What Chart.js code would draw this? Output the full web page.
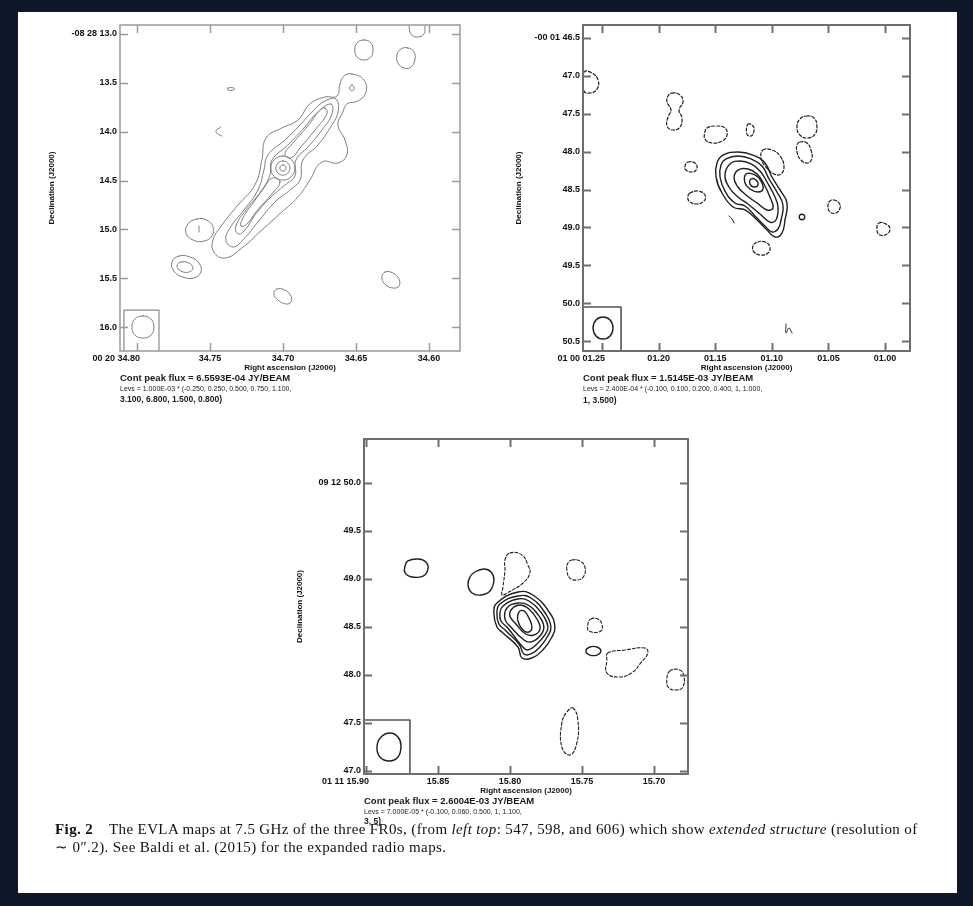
<!DOCTYPE html>
<html>
<head>
<meta charset="utf-8">
<title>EVLA 7.5 GHz maps of three FR0s</title>
<script src="https://cdn.jsdelivr.net/npm/chart.js@4.4.1/dist/chart.umd.min.js"></script>
<style>
html,body{margin:0;padding:0;}
body{width:973px;height:906px;background:#0f1828;position:relative;overflow:hidden;font-family:"Liberation Sans",Arial,sans-serif;}
#sheet{position:absolute;left:18px;top:12px;width:939px;height:881px;background:#fff;}
canvas{position:absolute;}
.note{position:absolute;color:#1a1a1a;font-weight:bold;white-space:nowrap;line-height:1;}
.note.small{font-weight:normal;}
.cap{position:absolute;font-family:"Liberation Serif","Times New Roman",serif;font-size:15px;letter-spacing:0.4px;line-height:18px;color:#111;white-space:nowrap;}
#cap1{left:55px;top:820px;}
#cap2{left:55px;top:838px;}
</style>
</head>
<body>
<div id="sheet"></div>
<canvas id="map587" width="450" height="360" style="left:30px;top:15px"></canvas>
<canvas id="map598" width="430" height="360" style="left:500px;top:15px"></canvas>
<canvas id="map606" width="430" height="370" style="left:280px;top:430px"></canvas>

<div class="note" style="left:120px;top:373px;font-size:9.5px">Cont peak flux = 6.5593E-04 JY/BEAM</div>
<div class="note small" style="left:120px;top:385px;font-size:7px">Levs = 1.000E-03 * (-0.250, 0.250, 0.500, 0.750, 1.100,</div>
<div class="note" style="left:120px;top:395px;font-size:8.5px">3.100, 6.800, 1.500, 0.800)</div>

<div class="note" style="left:583px;top:373px;font-size:9.5px">Cont peak flux = 1.5145E-03 JY/BEAM</div>
<div class="note small" style="left:583px;top:385px;font-size:7px">Levs = 2.400E-04 * (-0.100, 0.100, 0.200, 0.400, 1, 1.000,</div>
<div class="note" style="left:583px;top:396px;font-size:8.5px">1, 3.500)</div>

<div class="note" style="left:364px;top:796px;font-size:9.5px">Cont peak flux = 2.6004E-03 JY/BEAM</div>
<div class="note small" style="left:364px;top:808px;font-size:7px">Levs = 7.000E-05 * (-0.100, 0.060, 0.500, 1, 1.100,</div>
<div class="note" style="left:364px;top:817px;font-size:8.5px">3, 5)</div>

<div class="cap" id="cap1"><b>Fig. 2</b>&nbsp;&nbsp;&nbsp; The EVLA maps at 7.5 GHz of the three FR0s, (from <i>left top</i>: 547, 598, and 606) which show <i>extended structure</i> (resolution of</div>
<div class="cap" id="cap2">∼ 0″.2). See Baldi et al. (2015) for the expanded radio maps.</div>

<script>
// ---------- Source 547 : RA seconds (00 20 ss.ss), Dec arcsec (-08 28 ss.s) ----------
const p1RaRange = [34.5787, 34.8116];
const p1DecRange = [12.908, 16.244];
const p1RaTicks = [34.80, 34.75, 34.70, 34.65, 34.60];
const p1RaLabels = ['00 20 34.80', '34.75', '34.70', '34.65', '34.60'];
const p1DecTicks = [13.0, 13.5, 14.0, 14.5, 15.0, 15.5, 16.0];
const p1DecLabels = ['-08 28 13.0', '13.5', '14.0', '14.5', '15.0', '15.5', '16.0'];

const p1JetOuter = [[34.6527,13.409],[34.6445,13.471],[34.6431,13.594],[34.6486,13.686],[34.6562,13.716],[34.6589,13.798],[34.6623,13.931],[34.6575,14.085],[34.6562,14.238],[34.6623,14.320],[34.6733,14.310],[34.6815,14.494],[34.6897,14.668],[34.7007,14.822],[34.7144,15.006],[34.7281,15.190],[34.7397,15.293],[34.7473,15.231],[34.7479,15.108],[34.7418,14.955],[34.7308,14.750],[34.7192,14.545],[34.7144,14.290],[34.7116,14.064],[34.7007,13.962],[34.6897,13.880],[34.6815,13.716],[34.6712,13.645],[34.6630,13.635],[34.6609,13.512],[34.6582,13.430]];
const p1JetMid = [[34.6637,13.665],[34.6623,13.798],[34.6678,13.962],[34.6760,14.136],[34.6863,14.290],[34.6883,14.494],[34.6952,14.597],[34.7055,14.720],[34.7171,14.924],[34.7274,15.108],[34.7342,15.180],[34.7390,15.108],[34.7363,14.986],[34.7267,14.801],[34.7171,14.597],[34.7130,14.392],[34.7103,14.238],[34.6986,14.085],[34.6883,13.931],[34.6788,13.778],[34.6712,13.686]];
const p1JetInner = [[34.6671,13.716],[34.6664,13.819],[34.6733,13.983],[34.6829,14.157],[34.6911,14.290],[34.6918,14.453],[34.6986,14.545],[34.7089,14.679],[34.7192,14.853],[34.7260,15.006],[34.7308,15.047],[34.7322,14.965],[34.7253,14.801],[34.7144,14.597],[34.7089,14.443],[34.7075,14.290],[34.6966,14.136],[34.6856,13.962],[34.6760,13.798]];
const p1NorthKnot = [[34.6712,13.757],[34.6699,13.819],[34.6781,13.983],[34.6883,14.167],[34.6945,14.269],[34.6986,14.228],[34.6925,14.105],[34.6829,13.942],[34.6746,13.778]];
const p1SouthKnot = [[34.7020,14.515],[34.7089,14.658],[34.7185,14.822],[34.7247,14.945],[34.7288,14.965],[34.7274,14.883],[34.7205,14.730],[34.7130,14.576],[34.7075,14.474]];
const p1CoreOuter = [[34.7000,14.249],[34.6942,14.285],[34.6918,14.372],[34.6942,14.459],[34.7000,14.495],[34.7058,14.459],[34.7082,14.372],[34.7058,14.285]];
const p1CoreMid = [[34.7000,14.300],[34.6966,14.321],[34.6952,14.372],[34.6966,14.423],[34.7000,14.444],[34.7034,14.423],[34.7048,14.372],[34.7034,14.321]];
const p1CoreInner = [[34.7000,14.341],[34.6985,14.350],[34.6979,14.372],[34.6985,14.394],[34.7000,14.403],[34.7015,14.394],[34.7021,14.372],[34.7015,14.350]];
const p1HeadPeak = [[34.6527,13.522],[34.6512,13.553],[34.6527,13.584],[34.6542,13.553]];
const p1NorthBlobA = [[34.6445,13.061],[34.6397,13.092],[34.6383,13.164],[34.6397,13.235],[34.6445,13.266],[34.6493,13.235],[34.6507,13.164],[34.6493,13.092]];
const p1NorthBlobB = [[34.6144,13.143],[34.6103,13.184],[34.6096,13.266],[34.6123,13.338],[34.6171,13.348],[34.6212,13.297],[34.6219,13.215],[34.6192,13.154]];
const p1WestBlob = [[34.7589,14.893],[34.7521,14.904],[34.7479,14.975],[34.7486,15.067],[34.7541,15.119],[34.7616,15.108],[34.7664,15.037],[34.7651,14.945]];
const p1SouthWestOuter = [[34.7712,15.272],[34.7637,15.282],[34.7575,15.344],[34.7562,15.436],[34.7610,15.497],[34.7685,15.487],[34.7747,15.426],[34.7760,15.334]];
const p1SouthWestInner = [[34.7699,15.334],[34.7644,15.344],[34.7616,15.395],[34.7644,15.436],[34.7699,15.426],[34.7726,15.375]];
const p1SouthBlob = [[34.7041,15.610],[34.6986,15.620],[34.6945,15.682],[34.6945,15.743],[34.6979,15.763],[34.7034,15.723],[34.7062,15.661]];
const p1EastBlob = [[34.6301,15.436],[34.6246,15.446],[34.6205,15.508],[34.6205,15.579],[34.6240,15.600],[34.6294,15.569],[34.6322,15.497]];
const p1Speck = [[34.7377,13.553],[34.7336,13.553],[34.7336,13.573],[34.7377,13.573]];
const p1Beam = [[34.7959,15.886],[34.7904,15.917],[34.7884,15.999],[34.7904,16.081],[34.7959,16.111],[34.8014,16.081],[34.8034,15.999],[34.8014,15.917]];
const p1EdgeArc = [[34.6137,12.91],[34.6123,13.0],[34.6082,13.031],[34.6034,13.0],[34.6027,12.918]];
const p1Hook = [[34.7425,13.952],[34.7459,13.993],[34.7445,14.024],[34.7418,14.044]];
const p1Tick = [[34.7575,14.965],[34.7575,15.027]];
const p1BeamBox = [[34.8089,16.244],[34.8089,15.825],[34.7849,15.825],[34.7849,16.244]];

// ---------- Source 598 : RA seconds (01 00 ss.ss), Dec arcsec (-00 01 ss.s) ----------
const p2RaRange = [0.9780, 1.2668];
const p2DecRange = [46.3285, 50.6294];
const p2RaTicks = [1.25, 1.20, 1.15, 1.10, 1.05, 1.00];
const p2RaLabels = ['01 00 01.25', '01.20', '01.15', '01.10', '01.05', '01.00'];
const p2DecTicks = [46.5, 47.0, 47.5, 48.0, 48.5, 49.0, 49.5, 50.0, 50.5];
const p2DecLabels = ['-00 01 46.5', '47.0', '47.5', '48.0', '48.5', '49.0', '49.5', '50.0', '50.5'];

const p2Level1 = [[1.1432,48.044],[1.1299,48.004],[1.1167,48.044],[1.1061,48.149],[1.0999,48.334],[1.0928,48.505],[1.0866,48.677],[1.0884,48.901],[1.0911,49.073],[1.0972,49.125],[1.1043,49.033],[1.1131,48.901],[1.1237,48.769],[1.1343,48.730],[1.1440,48.545],[1.1493,48.334],[1.1485,48.149]];
const p2Level2 = [[1.1405,48.096],[1.1299,48.057],[1.1184,48.096],[1.1087,48.189],[1.1025,48.360],[1.0955,48.532],[1.0902,48.703],[1.0919,48.901],[1.0946,49.020],[1.0999,49.059],[1.1061,48.980],[1.1140,48.862],[1.1237,48.716],[1.1326,48.677],[1.1414,48.519],[1.1458,48.334],[1.1449,48.176]];
const p2Level3 = [[1.1370,48.162],[1.1281,48.123],[1.1184,48.162],[1.1105,48.255],[1.1043,48.400],[1.0981,48.571],[1.0946,48.730],[1.0964,48.901],[1.1017,48.928],[1.1105,48.822],[1.1211,48.690],[1.1299,48.598],[1.1379,48.466],[1.1414,48.307]];
const p2Level4 = [[1.1299,48.242],[1.1211,48.228],[1.1131,48.294],[1.1070,48.426],[1.1017,48.598],[1.0990,48.743],[1.1043,48.769],[1.1131,48.677],[1.1228,48.571],[1.1299,48.466],[1.1334,48.347]];
const p2Level5 = [[1.1228,48.294],[1.1149,48.307],[1.1096,48.387],[1.1078,48.492],[1.1123,48.532],[1.1193,48.492],[1.1237,48.413]];
const p2Level6 = [[1.1184,48.360],[1.1140,48.373],[1.1123,48.439],[1.1158,48.466],[1.1193,48.426]];
const p2NegEdge = [[1.2659,46.949],[1.2588,46.962],[1.2535,47.054],[1.2544,47.173],[1.2606,47.226],[1.2659,47.199]];
const p2NegPeanut = [[1.1882,47.226],[1.1811,47.252],[1.1785,47.344],[1.1820,47.450],[1.1794,47.555],[1.1811,47.674],[1.1873,47.714],[1.1926,47.661],[1.1917,47.542],[1.1891,47.450],[1.1926,47.344],[1.1917,47.265]];
const p2NegWest = [[1.1573,47.687],[1.1493,47.661],[1.1414,47.687],[1.1396,47.780],[1.1440,47.859],[1.1529,47.885],[1.1591,47.833],[1.1591,47.740]];
const p2NegSmallN = [[1.1211,47.635],[1.1167,47.661],[1.1158,47.727],[1.1184,47.793],[1.1220,47.767]];
const p2NegEastA = [[1.0690,47.529],[1.0628,47.555],[1.0602,47.661],[1.0619,47.767],[1.0681,47.819],[1.0752,47.780],[1.0778,47.674],[1.0752,47.569]];
const p2NegEastB = [[1.0752,47.872],[1.0690,47.885],[1.0655,47.978],[1.0646,48.083],[1.0681,48.149],[1.0743,48.110],[1.0778,48.004],[1.0778,47.912]];
const p2NegNearCore = [[1.1078,47.978],[1.0999,47.978],[1.0928,48.057],[1.0893,48.189],[1.0919,48.294],[1.0981,48.294],[1.1052,48.202],[1.1096,48.083]];
const p2NegSmallW = [[1.1741,48.136],[1.1679,48.149],[1.1661,48.215],[1.1696,48.268],[1.1758,48.242],[1.1767,48.189]];
const p2NegSW = [[1.1723,48.545],[1.1652,48.519],[1.1591,48.571],[1.1599,48.651],[1.1670,48.690],[1.1732,48.651],[1.1741,48.585]];
const p2NegSE = [[1.0451,48.637],[1.0407,48.677],[1.0398,48.743],[1.0434,48.809],[1.0487,48.796],[1.0504,48.716],[1.0487,48.651]];
const p2NegFarE = [[1.0054,48.941],[0.9992,48.954],[0.9957,49.020],[0.9983,49.086],[1.0045,49.099],[1.0072,49.033]];
const p2NegS = [[1.1123,49.191],[1.1061,49.191],[1.1017,49.257],[1.1034,49.337],[1.1096,49.363],[1.1158,49.323],[1.1167,49.244]];
const p2Dot = [[1.0752,48.835],[1.0716,48.835],[1.0716,48.888],[1.0752,48.888]];
const p2Stroke = [[1.1379,48.848],[1.1352,48.888],[1.1334,48.941]];
const p2Squiggle = [[1.0875,50.273],[1.0875,50.392],[1.0849,50.326],[1.0822,50.392]];
const p2Beam = [[1.2491,50.181],[1.2429,50.220],[1.2403,50.326],[1.2429,50.432],[1.2491,50.471],[1.2553,50.432],[1.2579,50.326],[1.2553,50.220]];
const p2BeamBox = [[1.2668,50.049],[1.2332,50.049],[1.2332,50.6294]];

// ---------- Source 606 : RA seconds (01 11 ss.ss), Dec arcsec (09 12 ss.s) ----------
const p3RaRange = [15.6764, 15.9014];
const p3DecRange = [46.9688, 50.4583];
const p3RaTicks = [15.90, 15.85, 15.80, 15.75, 15.70];
const p3RaLabels = ['01 11 15.90', '15.85', '15.80', '15.75', '15.70'];
const p3DecTicks = [50.0, 49.5, 49.0, 48.5, 48.0, 47.5, 47.0];
const p3DecLabels = ['09 12 50.0', '49.5', '49.0', '48.5', '48.0', '47.5', '47.0'];

const p3Level1 = [[15.8091,48.750],[15.7945,48.865],[15.7841,48.833],[15.7723,48.646],[15.7688,48.500],[15.7709,48.396],[15.7772,48.260],[15.7848,48.177],[15.7917,48.177],[15.7945,48.292],[15.8049,48.438],[15.8091,48.500],[15.8112,48.646]];
const p3Level2 = [[15.8070,48.740],[15.7945,48.823],[15.7855,48.802],[15.7751,48.635],[15.7716,48.500],[15.7737,48.406],[15.7792,48.292],[15.7855,48.219],[15.7903,48.219],[15.7938,48.323],[15.8035,48.469],[15.8077,48.531],[15.8091,48.646]];
const p3Level3 = [[15.8049,48.719],[15.7945,48.792],[15.7869,48.771],[15.7772,48.625],[15.7737,48.500],[15.7758,48.417],[15.7813,48.323],[15.7876,48.260],[15.7917,48.302],[15.8015,48.490],[15.8063,48.563],[15.8070,48.646]];
const p3Level4 = [[15.8021,48.698],[15.7945,48.750],[15.7876,48.729],[15.7799,48.615],[15.7765,48.500],[15.7792,48.406],[15.7855,48.344],[15.7903,48.365],[15.7994,48.500],[15.8035,48.583]];
const p3Level5 = [[15.7987,48.688],[15.7931,48.729],[15.7869,48.688],[15.7813,48.583],[15.7792,48.479],[15.7834,48.417],[15.7890,48.427],[15.7959,48.531],[15.8001,48.615]];
const p3Level6 = [[15.7938,48.656],[15.7903,48.667],[15.7869,48.594],[15.7848,48.500],[15.7869,48.448],[15.7910,48.469],[15.7945,48.563]];
const p3WestBlob = [[15.8709,49.188],[15.8639,49.208],[15.8584,49.177],[15.8570,49.104],[15.8604,49.031],[15.8681,49.021],[15.8729,49.063],[15.8729,49.135]];
const p3NearBlob = [[15.8244,49.073],[15.8181,49.104],[15.8132,49.073],[15.8112,48.990],[15.8139,48.875],[15.8202,48.833],[15.8264,48.854],[15.8292,48.938],[15.8278,49.021]];
const p3Lens = [[15.7473,48.250],[15.7445,48.292],[15.7397,48.292],[15.7369,48.250],[15.7397,48.208],[15.7445,48.208]];
const p3NegPlume = [[15.8001,49.271],[15.7917,49.250],[15.7876,49.146],[15.7862,49.063],[15.7910,48.958],[15.8021,48.854],[15.8056,48.833],[15.8049,48.917],[15.8035,49.094],[15.8035,49.198]];
const p3NegNE = [[15.7570,49.198],[15.7515,49.188],[15.7480,49.125],[15.7487,49.031],[15.7529,48.990],[15.7584,49.010],[15.7605,49.094],[15.7598,49.167]];
const p3NegSmall = [[15.7438,48.583],[15.7390,48.583],[15.7362,48.531],[15.7369,48.458],[15.7452,48.458],[15.7459,48.531]];
const p3NegPatch = [[15.7321,48.229],[15.7203,48.260],[15.7064,48.281],[15.7043,48.229],[15.7098,48.115],[15.7147,48.031],[15.7237,47.979],[15.7327,48.021],[15.7327,48.156]];
const p3NegEdge = [[15.6890,48.042],[15.6821,48.052],[15.6793,47.990],[15.6800,47.875],[15.6842,47.844],[15.6897,47.865],[15.6911,47.948]];
const p3NegStreak = [[15.7563,47.656],[15.7529,47.531],[15.7536,47.292],[15.7584,47.167],[15.7640,47.250],[15.7640,47.500],[15.7605,47.615]];
const p3Beam = [[15.8833,47.396],[15.8778,47.354],[15.8757,47.260],[15.8778,47.146],[15.8840,47.104],[15.8903,47.146],[15.8924,47.250],[15.8896,47.354]];
const p3BeamBox = [[15.9014,47.531],[15.8695,47.531],[15.8695,46.9688]];

// ---------- drawing ----------
Chart.defaults.font.family = '"Liberation Sans", Arial, sans-serif';
Chart.defaults.color = '#111';

const DASH = [3, 2];

function contour(points, color, width, extra) {
  return Object.assign({
    data: points.map(p => ({ x: p[0], y: p[1] })),
    borderColor: color,
    borderWidth: width,
    tension: 0.45,
    closed: true,
    pointRadius: 0,
    fill: false
  }, extra || {});
}

// Closed contours: let the line element wrap round so the spline has no seam.
const closeLoops = {
  id: 'closeLoops',
  afterDatasetUpdate(chart, args) {
    const ds = chart.data.datasets[args.index];
    const line = args.meta.dataset;
    if (line && ds.closed) {
      line._loop = true;
      line._fullLoop = true;
    }
  }
};

// Frame with inward tick marks on all four sides, plus the RA labels.
const frameTicks = {
  id: 'frameTicks',
  afterDraw(chart, args, opts) {
    const { ctx, chartArea: a, scales: { x, y } } = chart;
    ctx.save();
    ctx.strokeStyle = opts.color;
    ctx.lineWidth = opts.width;
    ctx.strokeRect(a.left, a.top, a.right - a.left, a.bottom - a.top);
    ctx.beginPath();
    const L = opts.len;
    x.ticks.forEach(t => {
      const px = Math.round(x.getPixelForValue(t.value)) + 0.5;
      ctx.moveTo(px, a.bottom); ctx.lineTo(px, a.bottom - L);
      ctx.moveTo(px, a.top); ctx.lineTo(px, a.top + L);
    });
    y.ticks.forEach(t => {
      const py = Math.round(y.getPixelForValue(t.value)) + 0.5;
      ctx.moveTo(a.left, py); ctx.lineTo(a.left + L, py);
      ctx.moveTo(a.right, py); ctx.lineTo(a.right - L, py);
    });
    ctx.stroke();
    ctx.fillStyle = '#111';
    ctx.font = 'bold 9px "Liberation Sans", Arial, sans-serif';
    ctx.textBaseline = 'middle';
    x.ticks.forEach((t, i) => {
      const px = x.getPixelForValue(t.value);
      ctx.textAlign = i === 0 ? 'right' : 'center';
      ctx.fillText(opts.labels[i], i === 0 ? px + 3 : px, a.bottom + 8);
    });
    ctx.restore();
  }
};

function makeChart(id, o) {
  return new Chart(document.getElementById(id), {
    type: 'line',
    data: { datasets: o.datasets },
    options: {
      responsive: false,
      maintainAspectRatio: false,
      animation: false,
      events: [],
      layout: { padding: o.padding },
      elements: { point: { radius: 0 }, line: { borderJoinStyle: 'round', borderCapStyle: 'round' } },
      plugins: {
        legend: { display: false },
        tooltip: { enabled: false },
        frameTicks: { labels: o.xLabels, color: o.frame, width: o.frameWidth, len: 8 }
      },
      scales: {
        x: {
          type: 'linear', position: 'bottom', reverse: true,
          min: o.xRange[0], max: o.xRange[1],
          afterBuildTicks: s => { s.ticks = o.xTicks.map(v => ({ value: v })); },
          afterFit: s => { s.height = o.xHeight; },
          grid: { display: false, drawTicks: false },
          border: { display: false },
          ticks: { display: false },
          title: { display: true, text: 'Right ascension (J2000)', color: '#111',
                   font: { size: 8, weight: 'bold' }, padding: { top: 0, bottom: o.xTitlePad } }
        },
        y: {
          type: 'linear', position: 'left', reverse: o.reverseY,
          min: o.yRange[0], max: o.yRange[1],
          afterBuildTicks: s => { s.ticks = o.yTicks.map(v => ({ value: v })); },
          afterFit: s => { s.width = o.yWidth; },
          grid: { display: false, drawTicks: false },
          border: { display: false },
          ticks: { padding: 3, color: '#111', autoSkip: false,
                   font: { size: 9, weight: 'bold' },
                   callback: (v, i) => o.yLabels[i] },
          title: { display: true, text: 'Declination (J2000)', color: '#111',
                   font: { size: 8, weight: 'bold' }, padding: { top: o.yTitlePad, bottom: 0 } }
        }
      }
    },
    plugins: [closeLoops, frameTicks]
  });
}

// Source 547: grey contours
const GREY = '#7d7d7d';
const p1Closed = [p1JetOuter, p1JetMid, p1JetInner, p1NorthKnot, p1SouthKnot, p1CoreOuter, p1CoreMid,
  p1CoreInner, p1HeadPeak, p1NorthBlobA, p1NorthBlobB, p1WestBlob, p1SouthWestOuter, p1SouthWestInner,
  p1SouthBlob, p1EastBlob, p1Speck, p1Beam];
const p1OpenCurves = [p1EdgeArc, p1Hook, p1Tick];
const p1Sets = p1Closed.map(c => contour(c, GREY, 1))
  .concat(p1OpenCurves.map(c => contour(c, GREY, 1, { closed: false })))
  .concat([contour(p1BeamBox, '#8a8a8a', 1.2, { closed: false, tension: 0 })]);

makeChart('map587', {
  datasets: p1Sets, padding: { left: 0, top: 10, right: 20, bottom: 0 },
  yWidth: 90, xHeight: 24, xTitlePad: 2, yTitlePad: 17,
  xRange: p1RaRange, yRange: p1DecRange, reverseY: true,
  xTicks: p1RaTicks, xLabels: p1RaLabels, yTicks: p1DecTicks, yLabels: p1DecLabels,
  frame: '#9a9a9a', frameWidth: 1.5
});

// Source 598: black contours, dashed negatives
const INK = '#1e1e1e';
const p2Positive = [p2Level1, p2Level2, p2Level3, p2Level4, p2Level5, p2Level6, p2Dot, p2Beam];
const p2Negative = [p2NegEdge, p2NegPeanut, p2NegWest, p2NegSmallN, p2NegEastA, p2NegEastB, p2NegNearCore,
  p2NegSmallW, p2NegSW, p2NegSE, p2NegFarE, p2NegS];
const p2Sets = p2Positive.map(c => contour(c, INK, 1.4))
  .concat(p2Negative.map(c => contour(c, INK, 1.2, { borderDash: DASH })))
  .concat([p2Stroke, p2Squiggle].map(c => contour(c, INK, 1, { closed: false })))
  .concat([contour(p2BeamBox, '#555', 1.6, { closed: false, tension: 0 })]);

makeChart('map598', {
  datasets: p2Sets, padding: { left: 0, top: 10, right: 20, bottom: 0 },
  yWidth: 83, xHeight: 24, xTitlePad: 2, yTitlePad: 14,
  xRange: p2RaRange, yRange: p2DecRange, reverseY: true,
  xTicks: p2RaTicks, xLabels: p2RaLabels, yTicks: p2DecTicks, yLabels: p2DecLabels,
  frame: '#6e6e6e', frameWidth: 2
});

// Source 606: black contours, dashed negatives
const p3Positive = [p3Level1, p3Level2, p3Level3, p3Level4, p3Level5, p3Level6, p3WestBlob, p3NearBlob, p3Lens, p3Beam];
const p3Negative = [p3NegPlume, p3NegNE, p3NegSmall, p3NegPatch, p3NegEdge, p3NegStreak];
const p3Sets = p3Positive.map(c => contour(c, INK, 1.4))
  .concat(p3Negative.map(c => contour(c, INK, 1.1, { borderDash: DASH })))
  .concat([contour(p3BeamBox, '#555', 1.6, { closed: false, tension: 0 })]);

makeChart('map606', {
  datasets: p3Sets, padding: { left: 0, top: 9, right: 22, bottom: 0 },
  yWidth: 84, xHeight: 26, xTitlePad: 4, yTitlePad: 15,
  xRange: p3RaRange, yRange: p3DecRange, reverseY: false,
  xTicks: p3RaTicks, xLabels: p3RaLabels, yTicks: p3DecTicks, yLabels: p3DecLabels,
  frame: '#6e6e6e', frameWidth: 2
});

// Caption: stretch the first line's word spacing so it runs to the right margin.
(function justifyFirstLine() {
  const line = document.getElementById('cap1');
  const target = 863;
  const spaces = (line.textContent.match(/ /g) || []).length;
  const natural = line.getBoundingClientRect().width;
  if (spaces > 0) line.style.wordSpacing = ((target - natural) / spaces).toFixed(2) + 'px';
})();
</script>
</body>
</html>
